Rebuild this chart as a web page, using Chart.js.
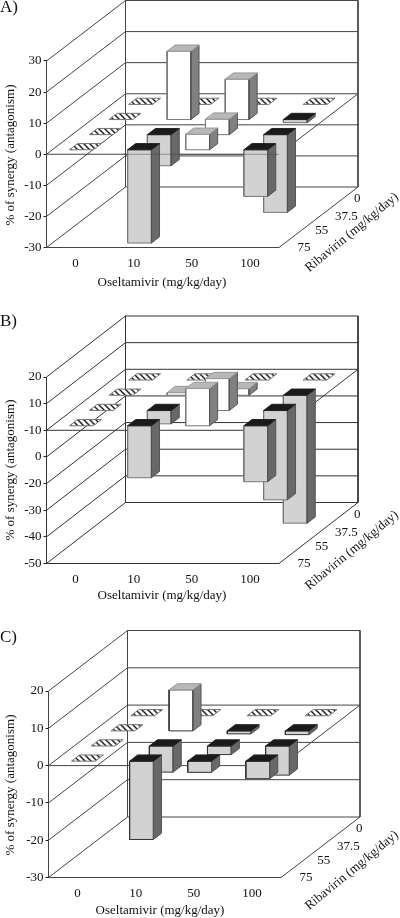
<!DOCTYPE html>
<html>
<head>
<meta charset="utf-8">
<style>
  html, body { margin: 0; padding: 0; background: #fff; }
  body { position: relative; width: 400px; height: 918px; overflow: hidden; }
  canvas { position: absolute; left: 0; }
</style>
</head>
<body>
<canvas id="chartA" width="400" height="300" style="top:0"></canvas>
<canvas id="chartB" width="400" height="310" style="top:300px"></canvas>
<canvas id="chartC" width="400" height="308" style="top:610px"></canvas>
<script src="https://cdn.jsdelivr.net/npm/chart.js@4"></script>
<script>
'use strict'

// categories
const oseltamivir = ['0', '10', '50', '100'];
const ribavirin = ['75', '55', '37.5', '0']; // front row first

// panel A values, one list per ribavirin row
const a75 = [0, -30, 5, -15];
const a55 = [0, -10, 5, -25];
const a37 = [0, 22, 13, -1];
const a0 = [0, 0, 0, 0];
const aTicks = [30, 20, 10, 0, -10, -20, -30];
const aTickLabels = ['30', '20', '10', '0', '-10', '-20', '-30'];

// panel B values
const b75 = [0, -19.5, 14, -21];
const b55 = [0, -5, 12, -33.5];
const b37 = [0, 1, 2.5, -48];
const b0 = [0, 0, 0, 0];
const bTicks = [20, 10, 0, -10, -20, -30, -40, -50];
const bTickLabels = ['20', '10', '-10', '0', '-20', '-30', '-40', '-50']; // printed like this in the figure

// panel C values
const c75 = [0, -21, -3, -4.7];
const c55 = [0, -7, -2.3, -7.8];
const c37 = [0, 11, -0.8, -1];
const c0 = [0, 0, 0, 0];
const cTicks = [20, 10, 0, -10, -20, -30];
const cTickLabels = ['20', '10', '0', '-10', '-20', '-30'];

const serif = 'Liberation Serif';
const textSize = 13;
const barSize = 0.41; // share of a cell

function hatchPattern() {
  var c = document.createElement('canvas');
  c.width = 6; c.height = 6;
  var g = c.getContext('2d');
  g.fillStyle = '#fff';
  g.fillRect(0, 0, 6, 6);
  g.strokeStyle = '#222';
  g.lineWidth = 1.5;
  g.beginPath();
  g.moveTo(-1, -1); g.lineTo(7, 7);
  g.moveTo(-1, 5); g.lineTo(1, 7);
  g.moveTo(5, -1); g.lineTo(7, 1);
  g.stroke();
  return g.createPattern(c, 'repeat');
}
const hatch = hatchPattern();

function drawPanel(p) {
  var pxPerCat = (p.frontRight - p.frontLeft) / oseltamivir.length;
  var run = (p.backRight - p.frontRight) / pxPerCat;
  var tickTop = p.ticks[0];
  var tickBottom = p.ticks[p.ticks.length - 1];
  var rise = (tickTop - tickBottom) * (p.frontTop - p.backTop) / (p.frontBottom - p.frontTop);
  var xLow = -0.5, xHigh = oseltamivir.length - 0.5;

  var datasets = [];
  function pt(x, v, d) { // d is depth 0..1, front to back
    return { x: x + d * run, y: v + d * rise };
  }
  function add(points, fill, stroke, width) {
    datasets.push({
      data: points,
      showLine: true,
      fill: fill ? 'shape' : false,
      backgroundColor: fill || 'transparent',
      borderColor: stroke,
      borderWidth: width || 1,
      pointRadius: 0,
      tension: 0,
      clip: false,
      order: -datasets.length
    });
  }
  function wire(a, b) { add([a, b], null, p.lineColor); }

  // walls and floor
  p.ticks.forEach(function (t) {
    wire(pt(xLow, t, 0), pt(xLow, t, 1));
    wire(pt(xLow, t, 1), pt(xHigh, t, 1));
  });
  wire(pt(xLow, tickTop, 1), pt(xLow, tickBottom, 1));
  wire(pt(xHigh, tickTop, 1), pt(xHigh, tickBottom, 1));
  wire(pt(xLow, tickTop, 0), pt(xLow, tickBottom, 0));
  wire(pt(xLow, tickBottom, 0), pt(xHigh, tickBottom, 0));
  wire(pt(xHigh, tickBottom, 0), pt(xHigh, tickBottom, 1));
  wire(pt(xLow, 0, 0), pt(xHigh, 0, 0));
  wire(pt(xHigh, 0, 0), pt(xHigh, 0, 1));

  // bars, back row first
  var rows = p.rows.length;
  for (var r = rows - 1; r >= 0; r--) {
    p.rows[r].forEach(function (v, col) {
      var x0 = col - barSize / 2, x1 = col + barSize / 2;
      var d0 = (r + 0.5 - barSize / 2) / rows, d1 = (r + 0.5 + barSize / 2) / rows;
      var level = Math.max(v, 0);
      var lid = [pt(x0, level, d0), pt(x1, level, d0), pt(x1, level, d1), pt(x0, level, d1), pt(x0, level, d0)];
      if (v === 0) {
        add(lid, hatch, '#777');
        return;
      }
      var low = Math.min(v, 0);
      var pos = v > 0;
      add([pt(x0, low, d0), pt(x1, low, d0), pt(x1, level, d0), pt(x0, level, d0), pt(x0, low, d0)],
        pos ? '#ffffff' : '#d2d2d2', p.edgeColor);
      add([pt(x1, low, d0), pt(x1, low, d1), pt(x1, level, d1), pt(x1, level, d0), pt(x1, low, d0)],
        pos ? '#808080' : '#686868', '#555');
      add(lid, pos ? '#b8b8b8' : '#1a1a1a', pos ? '#999' : '#222');
    });
  }

  // in panel A the floor edge shows faintly across the hanging bars
  if (p.floorOver) add([pt(1 - barSize / 2, 0, 0), pt(xHigh, 0, 0)], null, p.floorOver);

  // labels that the axes can't place
  var notes = {
    id: 'notes',
    afterDraw: function (chart) {
      var g = chart.ctx;
      var sx = chart.scales.x, sy = chart.scales.y;
      var cornerX = sx.getPixelForValue(xHigh);
      var cornerY = sy.getPixelForValue(tickBottom);
      var rowX = sx.getPixelForValue(xHigh + run) - cornerX;
      var rowY = sy.getPixelForValue(tickBottom + rise) - cornerY;
      g.save();
      g.fillStyle = '#111';
      g.textBaseline = 'middle';
      g.textAlign = 'left';
      g.font = '17px "' + serif + '"';
      g.fillText(p.letter, 0, p.letterY - p.top);

      g.font = textSize + 'px "' + serif + '"';
      g.textAlign = 'center';
      g.fillText('Oseltamivir (mg/kg/day)', p.xTitleX, p.xTitleY - p.top);
      ribavirin.forEach(function (t, i) {
        var f = (i + 0.5) / ribavirin.length;
        g.fillText(t, cornerX + rowX * f + p.depthNudge[i][0], cornerY + rowY * f + p.depthNudge[i][1]);
      });

      g.save();
      g.translate(cornerX + p.ribTitle[0], cornerY + p.ribTitle[1]);
      g.rotate(-39.5 * Math.PI / 180);
      g.fillText('Ribavirin (mg/kg/day)', 0, 0);
      g.restore();

      g.save();
      g.translate(p.yTitle[0], p.yTitle[1] - p.top);
      g.rotate(-Math.PI / 2);
      g.fillText('% of synergy (antagonism)', 0, 0);
      g.restore();
      g.restore();
    }
  };

  new Chart(document.getElementById(p.id), {
    type: 'scatter',
    data: { datasets: datasets },
    plugins: [notes],
    options: {
      responsive: false,
      animation: false,
      layout: {
        autoPadding: false,
        padding: { top: p.backTop - p.top, right: 400 - p.backRight, bottom: 0, left: 0 }
      },
      plugins: { legend: { display: false }, tooltip: { enabled: false }, title: { display: false } },
      scales: {
        x: {
          type: 'linear',
          min: xLow,
          max: xHigh + run,
          grid: { display: false, drawTicks: false },
          border: { display: false },
          afterBuildTicks: function (s) {
            s.ticks = oseltamivir.map(function (c, i) { return { value: i }; });
          },
          afterFit: function (s) {
            s.height = p.top + p.height - p.frontBottom; // labels get clipped to this box
            s.paddingLeft = s.paddingRight = 0;
          },
          ticks: {
            autoSkip: false, maxRotation: 0, minRotation: 0, padding: p.xTickPad, color: '#111',
            font: { family: serif, size: textSize },
            callback: function (v, i) { return oseltamivir[i]; }
          }
        },
        y: {
          type: 'linear',
          min: tickBottom,
          max: tickTop + rise,
          grid: { drawOnChartArea: false, drawTicks: true, tickLength: 3, color: '#222' },
          border: { display: false },
          afterBuildTicks: function (s) {
            s.ticks = p.ticks.map(function (t) { return { value: t }; });
          },
          afterFit: function (s) {
            s.width = p.frontLeft;
            s.paddingTop = s.paddingBottom = 0;
          },
          ticks: {
            autoSkip: false, padding: 2, color: '#111',
            font: { family: serif, size: textSize },
            callback: function (v, i) { return p.tickLabels[i]; }
          }
        }
      }
    }
  });
}

drawPanel({
  id: 'chartA', letter: 'A)', letterY: 8, top: 0, height: 300,
  rows: [a75, a55, a37, a0], ticks: aTicks, tickLabels: aTickLabels,
  frontLeft: 46.5, frontRight: 279, backRight: 358, backTop: 0.5, frontTop: 61, frontBottom: 247.5,
  lineColor: '#444', edgeColor: '#777', xTickPad: 8, floorOver: 'rgba(60,60,60,0.45)',
  xTitleX: 162, xTitleY: 283, yTitle: [11, 155],
  depthNudge: [[15, 8], [13, 6], [18, 7], [9, 4]], ribTitle: [73, -15]
});
drawPanel({
  id: 'chartB', letter: 'B)', letterY: 322, top: 300, height: 310,
  rows: [b75, b55, b37, b0], ticks: bTicks, tickLabels: bTickLabels,
  frontLeft: 46.5, frontRight: 279, backRight: 358, backTop: 316, frontTop: 377, frontBottom: 563.5,
  lineColor: '#333', edgeColor: '#777', xTickPad: 8,
  xTitleX: 162, xTitleY: 596, yTitle: [11, 470],
  depthNudge: [[15, 8], [13, 6], [18, 7], [9, 4]], ribTitle: [73, -13]
});
drawPanel({
  id: 'chartC', letter: 'C)', letterY: 638, top: 610, height: 308,
  rows: [c75, c55, c37, c0], ticks: cTicks, tickLabels: cTickLabels,
  frontLeft: 48.5, frontRight: 281, backRight: 360, backTop: 630.5, frontTop: 691, frontBottom: 877.5,
  lineColor: '#444', edgeColor: '#333', xTickPad: 8,
  xTitleX: 160, xTitleY: 911, yTitle: [11, 785],
  depthNudge: [[15, 8], [13, 6], [18, 7], [9, 4]], ribTitle: [71, -7]
});
</script>
</body>
</html>
